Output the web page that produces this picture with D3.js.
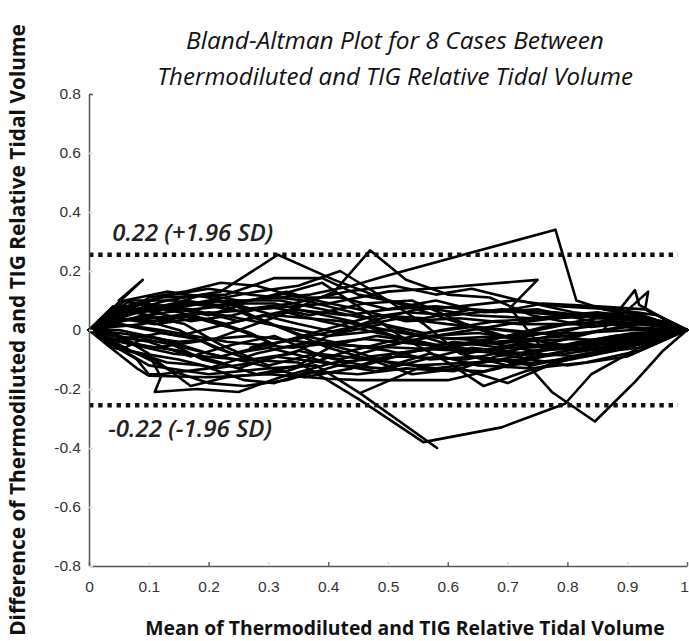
<!DOCTYPE html>
<html><head><meta charset="utf-8">
<script src="https://cdn.jsdelivr.net/npm/d3@7"></script>
<style>body{margin:0;background:#fff}</style></head>
<body><svg id="chart" width="689" height="641"></svg>
<script>
// ---- data ----
const titleLines = ["Bland-Altman Plot for 8 Cases Between", "Thermodiluted and TIG Relative Tidal Volume"];
const xLabel = "Mean of Thermodiluted and TIG Relative Tidal Volume";
const yLabel = "Difference of Thermodiluted and TIG Relative Tidal Volume";
const xTicks = [0, 0.1, 0.2, 0.3, 0.4, 0.5, 0.6, 0.7, 0.8, 0.9, 1];
const yTicks = [0.8, 0.6, 0.4, 0.2, 0, -0.2, -0.4, -0.6, -0.8];
const limitValues = [0.255, -0.255];
const limitLabels = ["0.22 (+1.96 SD)", "-0.22 (-1.96 SD)"];

const t01 = [[0,0],[0.04,0.075],[0.09,0.17],[0.05,0.1],[0.13,0.07],[0.22,0.1],[0.31,0.05],[0.42,0.03],[0.55,-0.02],[0.68,-0.04],[0.8,-0.02],[0.92,0.02],[1,0]];
const t02 = [[0,0],[0.05,0.05],[0.14,0.09],[0.26,0.1],[0.37,0.12],[0.44,0.15],[0.49,0.18],[0.78,0.34],[0.815,0.1],[0.86,0.07],[0.93,0.045],[1,0]];
const t03 = [[0,0],[0.06,0.06],[0.13,0.1],[0.22,0.13],[0.316,0.255],[0.41,0.17],[0.5,0.1],[0.58,0.05],[0.67,-0.01],[0.76,-0.06],[0.86,-0.07],[0.94,-0.03],[1,0]];
const t04 = [[0,0],[0.04,-0.03],[0.11,-0.06],[0.21,-0.03],[0.32,0.05],[0.41,0.13],[0.47,0.27],[0.53,0.17],[0.6,0.12],[0.67,0.11],[0.74,0.05],[0.84,0.01],[0.93,0.03],[1,0]];
const t05 = [[0,0],[0.05,0.03],[0.15,0.05],[0.28,0.07],[0.4,0.09],[0.5,0.13],[0.6,0.145],[0.75,0.17],[0.704,0.075],[0.757,-0.06],[0.86,-0.04],[0.95,-0.01],[1,0]];
const t06 = [[0,0],[0.05,-0.01],[0.15,-0.04],[0.27,-0.02],[0.4,-0.05],[0.52,-0.06],[0.62,-0.07],[0.717,-0.08],[0.774,-0.21],[0.846,-0.31],[0.913,-0.176],[0.96,-0.07],[1,0]];
const t07 = [[0,0],[0.05,-0.04],[0.14,-0.08],[0.25,-0.1],[0.35,-0.11],[0.453,-0.237],[0.559,-0.38],[0.69,-0.33],[0.796,-0.25],[0.84,-0.15],[0.92,-0.06],[1,0]];
const t08 = [[0,0],[0.04,-0.05],[0.1,-0.12],[0.2,-0.15],[0.3,-0.13],[0.38,-0.12],[0.453,-0.214],[0.582,-0.4],[0.453,-0.214],[0.55,-0.13],[0.66,-0.14],[0.76,-0.09],[0.87,-0.06],[1,0]];
const t09 = [[0,0],[0.03,-0.05],[0.08,-0.13],[0.1,-0.155],[0.2,-0.16],[0.3,-0.15],[0.4,-0.165],[0.453,-0.17],[0.6,-0.17],[0.686,-0.13],[0.76,-0.07],[0.88,-0.03],[1,0]];
const t10 = [[0,0],[0.05,0.02],[0.12,0],[0.23,-0.04],[0.34,-0.06],[0.46,-0.03],[0.56,-0.05],[0.66,-0.07],[0.76,-0.05],[0.86,0],[0.913,0.135],[0.92,0.085],[0.96,0.04],[1,0]];
const t11 = [[0,0],[0.04,0.04],[0.12,0.03],[0.2,0.06],[0.3,0.02],[0.4,-0.02],[0.5,0],[0.6,-0.03],[0.7,-0.02],[0.8,0.02],[0.88,0.03],[0.935,0.13],[0.93,0.07],[0.97,0.03],[1,0]];
const t12 = [[0,0],[0.05,0.06],[0.12,0.11],[0.23,0.12],[0.31,0.176],[0.39,0.176],[0.45,0.12],[0.55,0.08],[0.64,0.05],[0.74,0.04],[0.85,0.06],[0.93,0.04],[1,0]];
const t13 = [[0,0],[0.06,0.08],[0.14,0.12],[0.2,0.14],[0.27,0.12],[0.36,0.1],[0.44,0.06],[0.52,0],[0.62,-0.06],[0.71,-0.09],[0.8,-0.12],[0.9,-0.09],[1,0]];
const t14 = [[0,0],[0.03,-0.04],[0.08,-0.1],[0.1,-0.15],[0.12,-0.15],[0.2,-0.13],[0.28,-0.08],[0.37,-0.04],[0.48,-0.06],[0.58,-0.02],[0.7,0.02],[0.82,0.05],[0.91,0.06],[1,0]];
const t15 = [[0,0],[0.05,-0.02],[0.1,-0.08],[0.12,-0.16],[0.11,-0.21],[0.18,-0.2],[0.25,-0.21],[0.32,-0.16],[0.41,-0.11],[0.52,-0.09],[0.63,-0.1],[0.73,-0.06],[0.84,-0.05],[0.93,-0.04],[1,0]];
const t16 = [[0,0],[0.04,0.02],[0.09,0.05],[0.16,0.02],[0.22,-0.05],[0.3,-0.12],[0.38,-0.08],[0.47,-0.1],[0.55,-0.12],[0.64,-0.11],[0.72,-0.1],[0.8,-0.07],[0.9,-0.05],[1,0]];
const t17 = [[0,0],[0.05,-0.06],[0.11,-0.1],[0.17,-0.19],[0.23,-0.16],[0.33,-0.14],[0.42,-0.08],[0.5,-0.04],[0.59,0],[0.68,0.03],[0.78,0.04],[0.88,0.05],[1,0]];
const t18 = [[0,0],[0.04,0.05],[0.1,0.08],[0.18,0.09],[0.26,0.06],[0.33,0],[0.4,-0.06],[0.47,-0.1],[0.54,-0.15],[0.62,-0.13],[0.7,-0.18],[0.78,-0.11],[0.88,-0.07],[0.95,-0.03],[1,0]];
const t19 = [[0,0],[0.05,0.03],[0.13,0.06],[0.22,0.08],[0.32,0.12],[0.39,0.16],[0.45,0.08],[0.52,-0.02],[0.6,-0.11],[0.66,-0.19],[0.73,-0.14],[0.82,-0.09],[0.92,-0.04],[1,0]];
const t20 = [[0,0],[0.03,0.03],[0.08,0.04],[0.15,0],[0.21,-0.06],[0.27,-0.1],[0.34,-0.08],[0.4,-0.02],[0.47,0.03],[0.55,0.07],[0.62,0.08],[0.71,0.1],[0.79,0.08],[0.88,0.07],[0.95,0.05],[1,0]];
const t21 = [[0,0],[0.04,-0.02],[0.1,-0.04],[0.17,-0.09],[0.24,-0.05],[0.31,-0.02],[0.39,-0.09],[0.46,-0.12],[0.53,-0.08],[0.61,-0.04],[0.69,-0.06],[0.77,-0.02],[0.86,0.03],[0.94,0.02],[1,0]];
const t22 = [[0,0],[0.05,0.04],[0.11,0.02],[0.18,0.04],[0.25,0],[0.3,-0.04],[0.27,-0.06],[0.35,-0.03],[0.44,0.01],[0.52,0.04],[0.6,0.02],[0.7,0],[0.8,-0.02],[0.9,0.01],[1,0]];
const t23 = [[0,0],[0.06,0.1],[0.13,0.13],[0.2,0.11],[0.26,0.07],[0.34,0.09],[0.43,0.13],[0.51,0.15],[0.58,0.12],[0.64,0.14],[0.72,0.1],[0.81,0.06],[0.9,0.04],[1,0]];
const t24 = [[0,0],[0.05,0],[0.12,-0.03],[0.2,-0.08],[0.29,-0.12],[0.36,-0.16],[0.44,-0.13],[0.51,-0.08],[0.59,-0.06],[0.67,-0.03],[0.76,-0.01],[0.85,-0.04],[0.93,-0.02],[1,0]];
const t25 = [[0,0],[0.04,0.06],[0.09,0.09],[0.17,0.07],[0.25,0.03],[0.34,0.07],[0.43,0.05],[0.5,0.07],[0.58,0.1],[0.66,0.06],[0.75,0.07],[0.84,0.03],[0.93,0],[1,0]];
const t26 = [[0,0],[0.05,0.05],[0.12,0.07],[0.2,0.1],[0.28,0.13],[0.35,0.15],[0.42,0.2],[0.5,0.1],[0.56,0.02],[0.62,-0.08],[0.7,-0.12],[0.79,-0.1],[0.88,-0.06],[1,0]];
const t27 = [[0,0],[0.03,0.05],[0.07,0.1],[0.14,0.1],[0.2,0.08],[0.27,0.1],[0.33,0.13],[0.38,0.1],[0.45,0.07],[0.53,0.03],[0.62,0.04],[0.72,0.02],[0.83,0.02],[0.92,0.05],[1,0]];
const t28 = [[0,0],[0.04,-0.01],[0.08,-0.05],[0.15,-0.07],[0.22,-0.11],[0.28,-0.15],[0.35,-0.12],[0.41,-0.05],[0.48,-0.02],[0.55,-0.04],[0.63,-0.08],[0.71,-0.05],[0.8,-0.05],[0.9,-0.02],[1,0]];
const t29 = [[0,0],[0.05,0.07],[0.1,0.05],[0.16,0.1],[0.23,0.08],[0.29,0.03],[0.36,-0.02],[0.43,-0.05],[0.5,-0.07],[0.57,-0.1],[0.65,-0.09],[0.74,-0.12],[0.83,-0.08],[0.92,-0.06],[1,0]];
const t30 = [[0,0],[0.03,-0.03],[0.07,-0.07],[0.13,-0.11],[0.19,-0.12],[0.26,-0.17],[0.31,-0.18],[0.37,-0.14],[0.45,-0.15],[0.53,-0.13],[0.61,-0.14],[0.68,-0.09],[0.78,-0.06],[0.88,-0.02],[1,0]];
const t31 = [[0,0],[0.04,0.03],[0.1,0.11],[0.16,0.13],[0.22,0.16],[0.28,0.15],[0.35,0.11],[0.42,0.11],[0.5,0.07],[0.58,0.08],[0.68,0.06],[0.76,0.09],[0.85,0.08],[0.93,0.07],[1,0]];
const t32 = [[0,0],[0.04,0.01],[0.09,0.02],[0.15,0.05],[0.21,0.03],[0.27,-0.01],[0.32,-0.06],[0.38,-0.04],[0.44,-0.07],[0.5,-0.11],[0.58,-0.13],[0.66,-0.11],[0.74,-0.08],[0.83,-0.09],[0.92,-0.05],[1,0]];
const t33 = [[0,0],[0.05,0.08],[0.11,0.06],[0.17,0.03],[0.24,0.05],[0.3,0.08],[0.37,0.05],[0.46,0.09],[0.54,0.1],[0.63,0.02],[0.71,-0.03],[0.79,0],[0.87,0.02],[0.95,0.02],[1,0]];
const t34 = [[0,0],[0.02,-0.02],[0.06,-0.06],[0.09,-0.03],[0.14,-0.05],[0.19,-0.1],[0.25,-0.13],[0.31,-0.09],[0.39,-0.11],[0.48,-0.14],[0.56,-0.1],[0.64,-0.06],[0.73,-0.08],[0.82,-0.04],[0.91,-0.01],[1,0]];
const t35 = [[0,0],[0.03,0.02],[0.06,0.06],[0.11,0.08],[0.17,0.05],[0.23,0.02],[0.29,0.05],[0.35,0.02],[0.42,-0.01],[0.49,0.02],[0.56,-0.01],[0.64,0.01],[0.73,-0.01],[0.82,-0.01],[0.91,0],[1,0]];
const t36 = [[0,0],[0.03,-0.01],[0.07,-0.03],[0.12,-0.01],[0.18,-0.03],[0.24,-0.08],[0.3,-0.06],[0.36,-0.09],[0.42,-0.12],[0.49,-0.13],[0.57,-0.08],[0.65,-0.12],[0.74,-0.13],[0.83,-0.11],[0.92,-0.07],[1,0]];
const t37 = [[0,0],[0.04,0.08],[0.08,0.06],[0.13,0.08],[0.19,0.12],[0.25,0.1],[0.32,0.1],[0.39,0.07],[0.46,0.04],[0.53,0.06],[0.61,0.05],[0.69,0.07],[0.78,0.06],[0.87,0.04],[0.95,0.03],[1,0]];
const t38 = [[0,0],[0.03,-0.04],[0.08,-0.08],[0.14,-0.14],[0.2,-0.18],[0.26,-0.19],[0.33,-0.17],[0.4,-0.13],[0.47,-0.09],[0.55,-0.07],[0.63,-0.05],[0.72,-0.04],[0.81,-0.03],[0.9,-0.04],[1,0]];
const t39 = [[0,0],[0.05,0.04],[0.1,0.07],[0.15,0.07],[0.2,0.05],[0.26,0.09],[0.31,0.09],[0.37,0.06],[0.44,0.03],[0.51,-0.02],[0.58,-0.05],[0.66,-0.04],[0.74,-0.07],[0.84,-0.06],[0.93,-0.04],[1,0]];
const t40 = [[0,0],[0.04,-0.03],[0.1,-0.02],[0.16,-0.06],[0.22,-0.09],[0.28,-0.06],[0.34,-0.03],[0.41,0.01],[0.48,0.05],[0.56,0.04],[0.64,0.07],[0.72,0.06],[0.8,0.05],[0.89,0.04],[0.96,0.03],[1,0]];
const t41 = [[0,0],[0.05,0.02],[0.1,0],[0.15,-0.02],[0.21,0.01],[0.27,0.04],[0.33,0.06],[0.39,0.03],[0.46,0],[0.53,-0.03],[0.6,-0.06],[0.68,-0.03],[0.76,0.01],[0.85,0.04],[0.93,0.03],[1,0]];
const t42 = [[0,0],[0.04,-0.06],[0.09,-0.08],[0.15,-0.1],[0.21,-0.13],[0.28,-0.11],[0.35,-0.07],[0.42,-0.1],[0.49,-0.06],[0.57,-0.02],[0.65,-0.01],[0.73,-0.03],[0.82,-0.06],[0.91,-0.03],[1,0]];
const traces = [t01,t02,t03,t04,t05,t06,t07,t08,t09,t10,t11,t12,t13,t14,t15,t16,t17,t18,t19,t20,t21,
                t22,t23,t24,t25,t26,t27,t28,t29,t30,t31,t32,t33,t34,t35,t36,t37,t38,t39,t40,t41,t42];

// ---- drawing ----
const svg = d3.select("#chart");
const x = d3.scaleLinear().domain([0, 1]).range([89, 687]);
const y = d3.scaleLinear().domain([-0.8, 0.8]).range([566, 94]);
const fmt = d => (d === 0 ? "0" : d === 1 ? "1" : (d < 0 ? "-" : "") + Math.abs(d).toFixed(1));

function fit(sel, w) {
  const cur = sel.node().getComputedTextLength();
  const fs = parseFloat(sel.style("font-size"));
  sel.style("font-size", (fs * w / cur) + "px");
}

// traces
const line = d3.line().x(d => x(d[0])).y(d => y(d[1]));
svg.append("g").selectAll("path").data(traces).join("path")
  .attr("d", line).attr("fill", "none").attr("stroke", "#000")
  .attr("stroke-width", 2.6).attr("stroke-linejoin", "round").attr("stroke-linecap", "round");

// limit lines
svg.append("g").selectAll("line").data(limitValues).join("line")
  .attr("x1", x(0)).attr("x2", x(0.985))
  .attr("y1", d => y(d)).attr("y2", d => y(d))
  .attr("stroke", "#111").attr("stroke-width", 4.4).attr("stroke-dasharray", "4.4,4.8");

svg.append("g").selectAll("text").data(limitLabels).join("text")
  .attr("x", (d, i) => i === 0 ? x(0.039) : x(0.032))
  .attr("y", (d, i) => i === 0 ? y(limitValues[0]) - 23 : y(limitValues[1]) + 22)
  .attr("dominant-baseline", "central")
  .style("font-family", "'Open Sans', sans-serif").style("font-style", "italic").style("font-weight", "600")
  .style("font-size", "16px").attr("fill", "#222")
  .text(d => d)
  .each(function(d, i) { fit(d3.select(this), i === 0 ? 161 : 164); });

// axes
const xAxis = d3.axisBottom(x).tickValues(xTicks).tickFormat(fmt).tickSizeInner(-4).tickSizeOuter(0).tickPadding(15);
const gx = svg.append("g").attr("transform", "translate(0,566)").call(xAxis);
const yAxis = d3.axisLeft(y).tickValues(yTicks).tickFormat(fmt).tickSizeInner(-4).tickSizeOuter(0).tickPadding(8);
const gy = svg.append("g").attr("transform", "translate(89,0)").call(yAxis);
[gx, gy].forEach(g => {
  g.select(".domain").attr("stroke", "#555").attr("stroke-width", 1.5);
  g.selectAll("text").style("font-family", "'Liberation Sans', Arial, sans-serif").style("font-size", "15.5px").attr("fill", "#333");
});
gx.selectAll(".tick text").filter(d => d === 1).attr("dx", "-3");
gx.selectAll(".tick line").attr("stroke", (d) => (Math.round(d * 10) % 2 === 0 ? "#666" : "#ddd")).attr("stroke-width", 1.5);
gy.selectAll(".tick line").attr("stroke", (d) => (d === 0.8 ? "#555" : "#ddd")).attr("stroke-width", 1.5);

// titles
titleLines.forEach((t, i) => {
  const tt = svg.append("text").attr("x", 395).attr("y", i === 0 ? 49 : 85).attr("text-anchor", "middle")
    .style("font-family", "'Open Sans', sans-serif").style("font-style", "italic").style("font-size", "20px").attr("fill", "#111")
    .text(t);
  fit(tt, i === 0 ? 418 : 476);
});

const xt = svg.append("text").attr("x", 405).attr("y", 627).attr("text-anchor", "middle")
  .attr("dominant-baseline", "central")
  .style("font-family", "'Open Sans', sans-serif").style("font-weight", "bold").style("font-size", "17px").attr("fill", "#111")
  .text(xLabel);
fit(xt, 520);

const yt = svg.append("text").attr("transform", "translate(17,330) rotate(-90)").attr("text-anchor", "middle")
  .attr("dominant-baseline", "central")
  .style("font-family", "'Open Sans', sans-serif").style("font-weight", "bold").style("font-size", "17px").attr("fill", "#111")
  .text(yLabel);
fit(yt, 612);
</script>
</body></html>
